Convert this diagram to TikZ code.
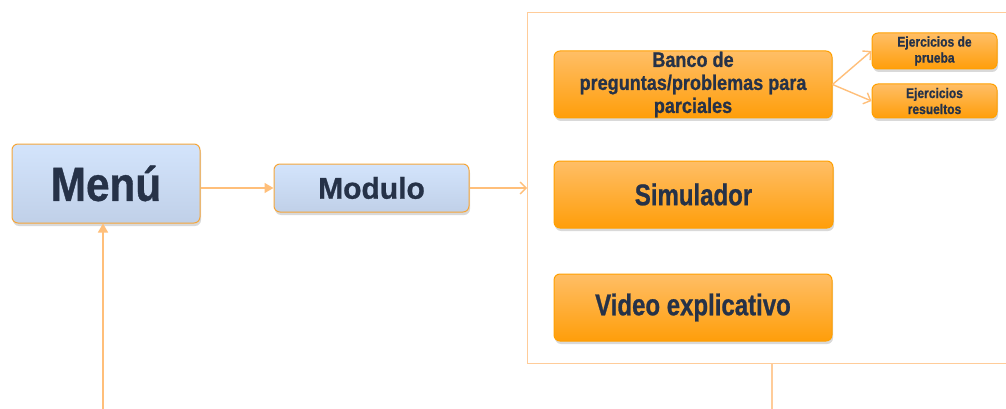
\documentclass[tikz,border=0pt]{standalone}
\usepackage{fontspec}
\newfontfamily\condfont{Liberation Sans}[FakeStretch=0.8,FakeBold=0.8]
\newfontfamily\bandfont{Liberation Sans}[FakeStretch=0.86,FakeBold=0.8]
\newfontfamily\menufont{Liberation Sans}[FakeStretch=0.88,FakeBold=0.8]
\newfontfamily\widefont{Liberation Sans}[FakeStretch=1.0,FakeBold=0.8]
\usetikzlibrary{arrows.meta,shadows}
\definecolor{txt}{HTML}{263248}
\definecolor{obord}{HTML}{FFA000}
\definecolor{otop}{HTML}{FFBE66}
\definecolor{obot}{HTML}{FF9E0A}
\definecolor{btop}{HTML}{D3E4FC}
\definecolor{bbot}{HTML}{C0D0E8}
\definecolor{bbord}{HTML}{F5A63A}
\definecolor{lineo}{HTML}{FFBF7A}
\definecolor{contc}{HTML}{FFCC99}
\tikzset{
  base/.style={rounded corners=6pt, inner sep=0pt, align=center, text=txt,
    line width=1pt,
    drop shadow={shadow xshift=1pt, shadow yshift=-3pt, opacity=0.3}},
  bluebox/.style={base, draw=bbord, top color=btop, bottom color=bbot},
  orangebox/.style={base, draw=obord, top color=otop, bottom color=obot},
  conn/.style={draw=lineo, line width=1.4pt},
  solidtip/.style={conn, -{Triangle[length=9pt,width=10pt]}},
  opentip/.style={conn, -{Straight Barb[length=6pt,width=12pt]}},
}
\begin{document}
\begin{tikzpicture}[x=1pt,y=-1pt]
\useasboundingbox (0,0) rectangle (1006,409);
% container
\node[draw=contc, line width=1.2pt, minimum width=500pt, minimum height=351pt, inner sep=0pt, anchor=north west] (cont) at (527,12) {};
% nodes
\node[bluebox, minimum width=188pt, minimum height=79pt, font=\menufont\bfseries\fontsize{48}{52}\selectfont] (menu) at (106,183.5) {Menú};
\node[bluebox, minimum width=195pt, minimum height=48pt, font=\widefont\bfseries\fontsize{30}{34}\selectfont] (mod) at (371.5,188) {Modulo};
\node[orangebox, minimum width=278pt, minimum height=67pt, font=\bandfont\bfseries\fontsize{21}{23}\selectfont] (banco) at (693,84.5) {Banco de\\preguntas/problemas para\\parciales};
\node[orangebox, minimum width=279pt, minimum height=67pt, font=\condfont\bfseries\fontsize{30}{34}\selectfont] (sim) at (693.5,194.5) {Simulador};
\node[orangebox, minimum width=278pt, minimum height=67pt, font=\condfont\bfseries\fontsize{30}{34}\selectfont] (video) at (693,307.5) {Video explicativo};
\node[orangebox, minimum width=125pt, minimum height=36pt, font=\bandfont\bfseries\fontsize{14}{16}\selectfont] (ej1) at (934.5,51) {Ejercicios de\\prueba};
\node[orangebox, minimum width=125pt, minimum height=34pt, font=\bandfont\bfseries\fontsize{14}{16}\selectfont] (ej2) at (934.5,101) {Ejercicios\\resueltos};
% coordinates
\coordinate (bottomin) at (103,409);
\coordinate (contout) at (772,409);
% connectors
\draw[solidtip] (mod.west -| menu.east) -- (mod.west);
\draw[opentip] (mod.east) -- (mod.east -| cont.west);
\draw[solidtip] (bottomin) -- (bottomin |- menu.south);
\draw[conn, draw=contc] (contout |- cont.south) -- (contout);
\draw[opentip] (banco.east) -- (ej1.west);
\draw[opentip] (banco.east) -- (ej2.west);
\end{tikzpicture}
\end{document}
